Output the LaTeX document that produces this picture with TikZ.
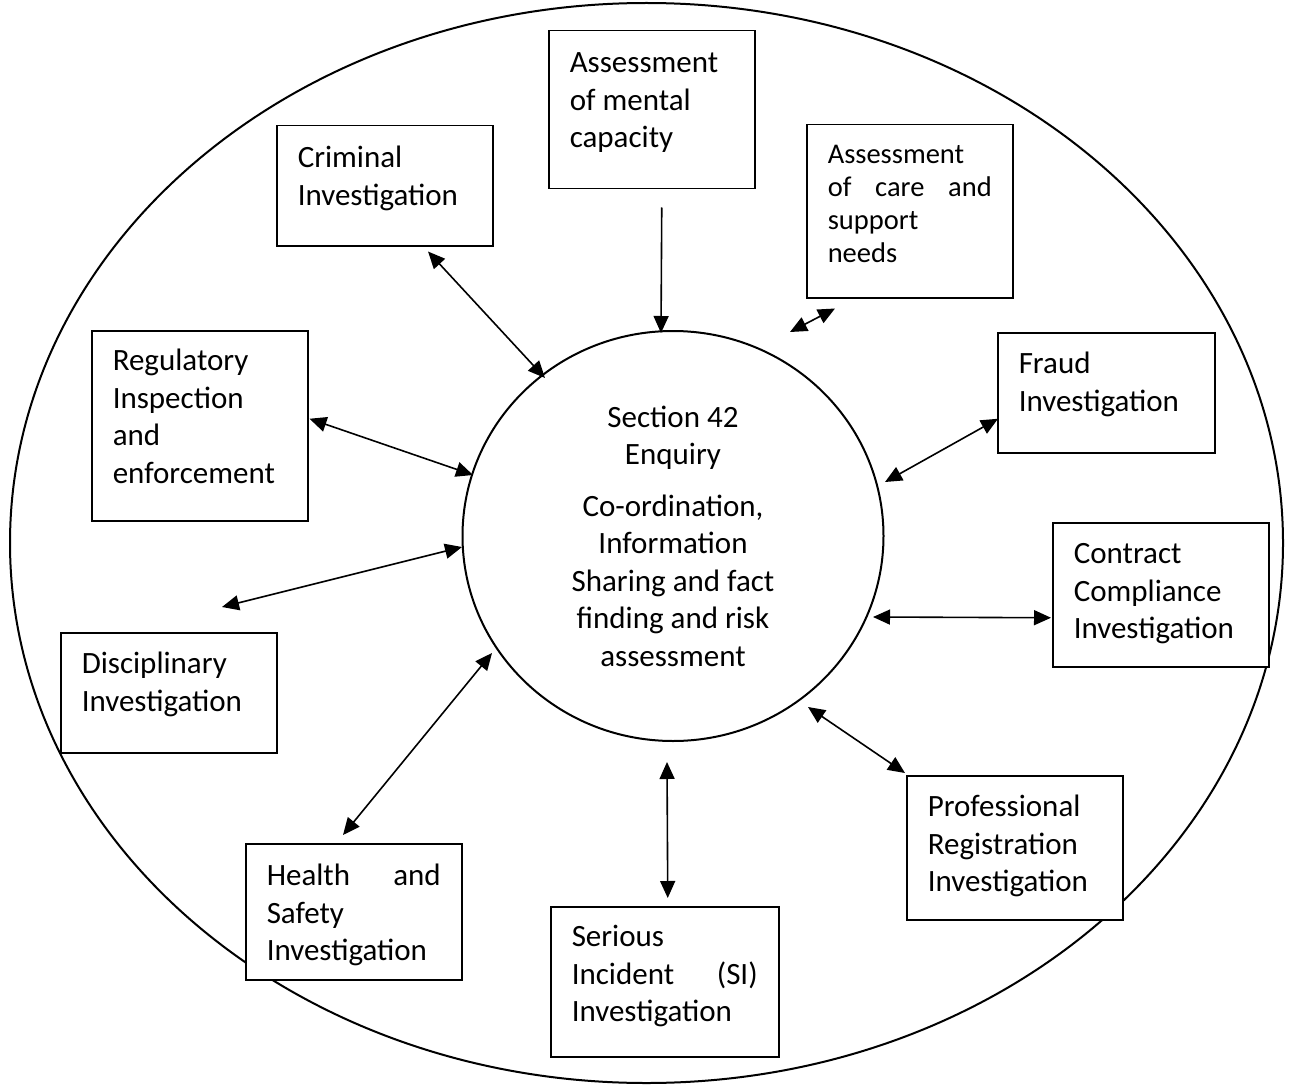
\documentclass[tikz,border=0pt]{standalone}
\usepackage{fontspec}
\setmainfont{Carlito}
\usetikzlibrary{arrows.meta,shapes.geometric}
\newcommand\bxt[4]{\parbox[t][#1][t]{#2}{\raggedright\rule{0pt}{#3}#4}}
\begin{document}
\begin{tikzpicture}[x=1pt,y=-1pt,
  box/.style={draw, fill=white, line width=1.5pt, rectangle, inner xsep=21pt, inner ysep=0pt, anchor=north west, font=\fontsize{31}{37.5}\selectfont},
  tip/.style={Triangle[length=17pt,width=15pt]},
  dbl/.style={line width=1.6pt, {Triangle[length=17pt,width=15pt]}-{Triangle[length=17pt,width=15pt]}},
  sgl/.style={line width=1.6pt, -{Triangle[length=17pt,width=15pt]}}]
\useasboundingbox (0,0) rectangle (1290,1086);
\node[ellipse, draw, line width=2pt, minimum width=1273pt, minimum height=1080pt, inner sep=0pt] (outer) at (646.5,543) {};
\node[ellipse, draw, line width=2pt, minimum width=421pt, minimum height=410pt, inner sep=0pt, align=center, font=\fontsize{31}{37.5}\selectfont] (c) at (673,536)
  {Section 42\\Enquiry\\[14pt]Co-ordination,\\Information\\Sharing and fact\\finding and risk\\assessment};
\node[box] (mc) at (548,30) {\bxt{158pt}{164pt}{42pt}{Assessment\\of mental\\capacity}};
\node[box] (crim) at (276,125) {\bxt{120pt}{174pt}{42pt}{Criminal\\Investigation}};
\node[box, font=\fontsize{28.5}{33}\selectfont] (care) at (806,124) {\bxt{173pt}{164pt}{39pt}{Assessment\\of\hfill care\hfill and\\support\\needs}};
\node[box] (fraud) at (997,332) {\bxt{120pt}{175pt}{41pt}{Fraud\\Investigation}};
\node[box] (reg) at (91,330) {\bxt{190pt}{174pt}{40pt}{Regulatory\\Inspection\\and\\enforcement}};
\node[box] (contract) at (1052,522) {\bxt{144pt}{174pt}{41pt}{Contract\\Compliance\\Investigation}};
\node[box] (disc) at (60,632) {\bxt{120pt}{174pt}{41pt}{Disciplinary\\Investigation}};
\node[box] (health) at (245,843) {\bxt{136pt}{174pt}{42pt}{Health\hfill and\\Safety\\Investigation}};
\node[box] (serious) at (550,906) {\bxt{150pt}{186pt}{40pt}{Serious\\Incident\hfill (SI)\\Investigation}};
\node[box] (prof) at (906,775) {\bxt{144pt}{174pt}{41pt}{Professional\\Registration\\Investigation}};
\draw[sgl] ([shift={(10,18)}]mc.south) -- ([shift={(-12,-203)}]c.center);
\draw[dbl] ([shift={(152,5)}]crim.south west) -- ([shift={(-128,-158)}]c.center);
\draw[dbl] ([shift={(29,10)}]care.south west) -- ([shift={(117,-204)}]c.center);
\draw[dbl] ([shift={(1,26)}]fraud.west) -- ([shift={(212,-54)}]c.center);
\draw[dbl] ([shift={(200,81)}]c.center) -- ([shift={(-1,23)}]contract.west);
\draw[dbl] ([shift={(135,171)}]c.center) -- ([shift={(-1,-2)}]prof.north west);
\draw[dbl] ([shift={(-6,226)}]c.center) -- ([shift={(3,-8)}]serious.north);
\draw[dbl] ([shift={(-181,117)}]c.center) -- ([shift={(98,-8)}]health.north west);
\draw[dbl] ([shift={(-211,11)}]c.center) -- ([shift={(162,-25)}]disc.north west);
\draw[dbl] ([shift={(1,-7)}]reg.east) -- ([shift={(-200,-61)}]c.center);
\end{tikzpicture}
\end{document}
